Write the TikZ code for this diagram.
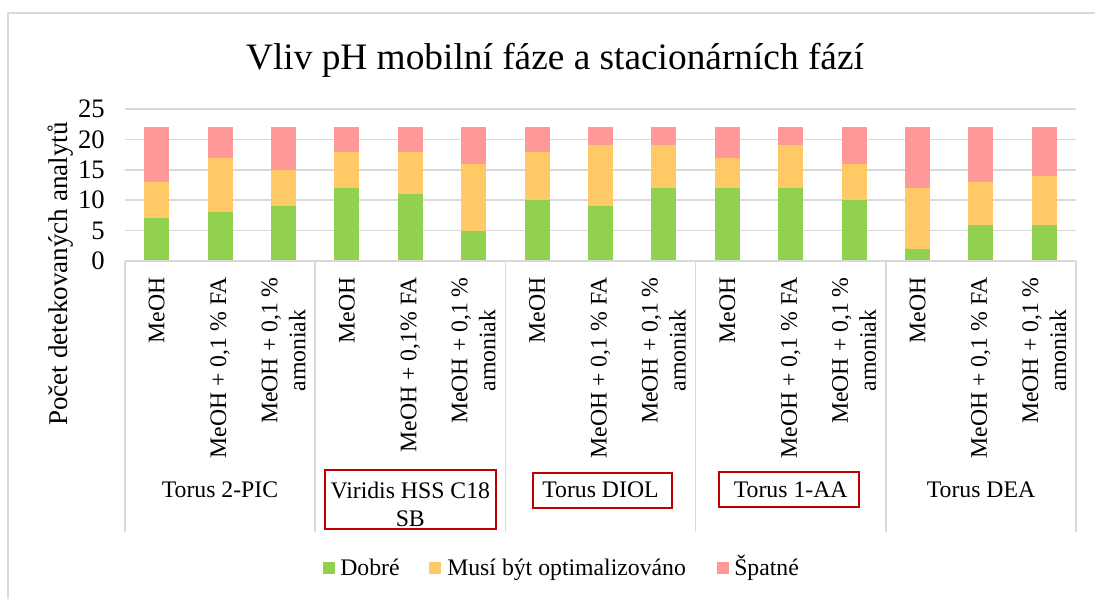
\documentclass[tikz,border=0pt]{standalone}
\usepackage{fontspec}
\setmainfont{Liberation Serif}
\definecolor{cgood}{HTML}{92D050}
\definecolor{cmid}{HTML}{FFC966}
\definecolor{cbad}{HTML}{FF9999}
\definecolor{cgrid}{HTML}{D9D9D9}
\definecolor{cred}{HTML}{C00000}
\begin{document}
\begin{tikzpicture}[x=0.75pt,y=-0.75pt,
  grid/.style={draw=cgrid,line width=1.2pt},
  lbl/.style={font=\fontsize{17.8}{21}\selectfont,inner sep=0pt},
  ticklbl/.style={font=\fontsize{20}{24}\selectfont,inner sep=0pt,anchor=east},
  catlbl/.style={lbl,rotate=90,anchor=east,align=center},
  redbox/.style={draw=cred,line width=1.6pt,inner sep=0pt},
  legsq/.style={inner sep=0pt,minimum size=9pt}]
\useasboundingbox (0,0) rectangle (1095,599);
\fill[white] (0,0) rectangle (1095,599);
% chart border
\draw[cgrid,line width=1.2pt] (8,599) -- (8,13) -- (1095,13);
% title
\node[font=\fontsize{28}{32}\selectfont,inner sep=0pt] (title) at (555,60) {Vliv pH mobilní fáze a stacionárních fází};
% gridlines and ticks
\foreach \v in {5,10,15,20,25}{
  \draw[grid] (125,{261-\v*6.08}) -- (1076,{261-\v*6.08});
}
\foreach \v in {0,5,10,15,20,25}{
  \node[ticklbl] (tick\v) at (105,{261-\v*6.08}) {\v};
}
% axis title
\node[font=\fontsize{20.3}{24}\selectfont,inner sep=0pt,rotate=90] (ytitle) at (61,274) {Počet detekovaných analytů};
% bars
\foreach \g/\o [count=\i from 0] in {7/13,8/17,9/15,12/18,11/18,5/16,10/18,9/19,12/19,12/17,12/19,10/16,2/12,6/13,6/14}{
  \pgfmathsetmacro\xc{125+(\i+0.5)*63.4}
  \fill[cgood] ({\xc-12.5},261) rectangle ({\xc+12.5},{261-\g*6.08});
  \fill[cmid] ({\xc-12.5},{261-\g*6.08}) rectangle ({\xc+12.5},{261-\o*6.08});
  \fill[cbad] ({\xc-12.5},{261-\o*6.08}) rectangle ({\xc+12.5},{261-22*6.08});
}
% category axis
\draw[grid] (125,261) -- (1076,261);
\foreach \k in {0,...,5}{
  \draw[grid] ({125+\k*190.2},261) -- ({125+\k*190.2},532);
}
% category labels
\foreach \lab [count=\i from 0] in {MeOH,{MeOH + 0,1 \% FA},{MeOH + 0,1 \%\\amoniak},
  MeOH,{MeOH + 0,1\% FA},{MeOH + 0,1 \%\\amoniak},
  MeOH,{MeOH + 0,1 \% FA},{MeOH + 0,1 \%\\amoniak},
  MeOH,{MeOH + 0,1 \% FA},{MeOH + 0,1 \%\\amoniak},
  MeOH,{MeOH + 0,1 \% FA},{MeOH + 0,1 \%\\amoniak}}{
  \pgfmathsetmacro\xc{125+(\i+0.5)*63.4}
  \node[catlbl] (cat\i) at (\xc,277) {\lab};
}
% group labels
\node[lbl] (g1) at (220,490) {Torus 2-PIC};
\node[lbl,align=center] (g2) at (410.3,504) {Viridis HSS C18\\SB};
\node[lbl] (g3) at (600.5,490) {Torus DIOL};
\node[lbl] (g4) at (790.7,490) {Torus 1-AA};
\node[lbl] (g5) at (981,490) {Torus DEA};
\node[redbox,minimum width=128pt,minimum height=44pt] (b2) at (410.5,499.5) {};
\node[redbox,minimum width=104pt,minimum height=26pt] (b3) at (602.5,490.5) {};
\node[redbox,minimum width=105pt,minimum height=26pt] (b4) at (789,489.5) {};
% legend
\node[legsq,fill=cgood] (sq1) at (329,567.5) {};
\node[lbl,anchor=base west] (l1) at (340,575) {Dobré};
\node[legsq,fill=cmid] (sq2) at (435,567.5) {};
\node[lbl,anchor=base west] (l2) at (447,575) {Musí být optimalizováno};
\node[legsq,fill=cbad] (sq3) at (723,567.5) {};
\node[lbl,anchor=base west] (l3) at (734,575) {Špatné};
\end{tikzpicture}
\end{document}
